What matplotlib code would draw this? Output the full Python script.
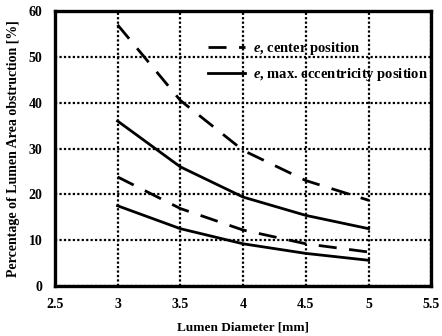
import matplotlib
matplotlib.use("Agg")
import matplotlib.pyplot as plt

diameter = [3, 3.5, 4, 4.5, 5]
center_upper = [57, 40.5, 29.6, 23, 18.7]
ecc_upper = [36, 26, 19.4, 15.4, 12.5]
center_lower = [23.8, 16.9, 12.2, 9.2, 7.4]
ecc_lower = [17.5, 12.5, 9.2, 7.1, 5.6]

xticks = [2.5, 3, 3.5, 4, 4.5, 5, 5.5]
yticks = [0, 10, 20, 30, 40, 50, 60]

plt.rcParams['font.family'] = 'Liberation Serif'
plt.rcParams['font.weight'] = 'bold'
plt.rcParams['mathtext.fontset'] = 'custom'
plt.rcParams['mathtext.it'] = 'Liberation Serif:italic:bold'
plt.rcParams['mathtext.rm'] = 'Liberation Serif:bold'

fig = plt.figure(figsize=(4.42, 3.36), dpi=100)
ax = fig.add_axes([0.124, 0.149, 0.852, 0.818])

dash = (0, (6.5, 4.5))
ax.plot(diameter, center_upper, color='black', lw=2.0, linestyle=dash, label='$e$, center position')
ax.plot(diameter, ecc_upper, color='black', lw=2.0, label='$e$, max. eccentricity position')
ax.plot(diameter, center_lower, color='black', lw=2.0, linestyle=dash)
ax.plot(diameter, ecc_lower, color='black', lw=2.0)

ax.set_xlim(2.5, 5.5)
ax.set_ylim(0, 60)
ax.set_xticks(xticks)
ax.set_xticklabels([f"{v:g}" for v in xticks])
ax.set_yticks(yticks)
ax.tick_params(length=0, labelsize=10, pad=9)
ax.grid(True, color='black', linestyle=(0, (1, 1)), linewidth=1.6)
for s in ax.spines.values():
    s.set_linewidth(2.4)

ax.set_xlabel('Lumen Diameter [mm]', fontsize=9.5, fontweight='bold', labelpad=7)
ax.set_ylabel('Percentage of Lumen Area obstruction [%]', fontsize=10, fontweight='bold', labelpad=6)

leg = ax.legend(loc='upper left', bbox_to_anchor=(0.39, 0.915), frameon=False, fontsize=10.5,
                handlelength=2.6, handletextpad=0.5, labelspacing=0.6, borderaxespad=0)

fig.savefig('out.png', dpi=100)
